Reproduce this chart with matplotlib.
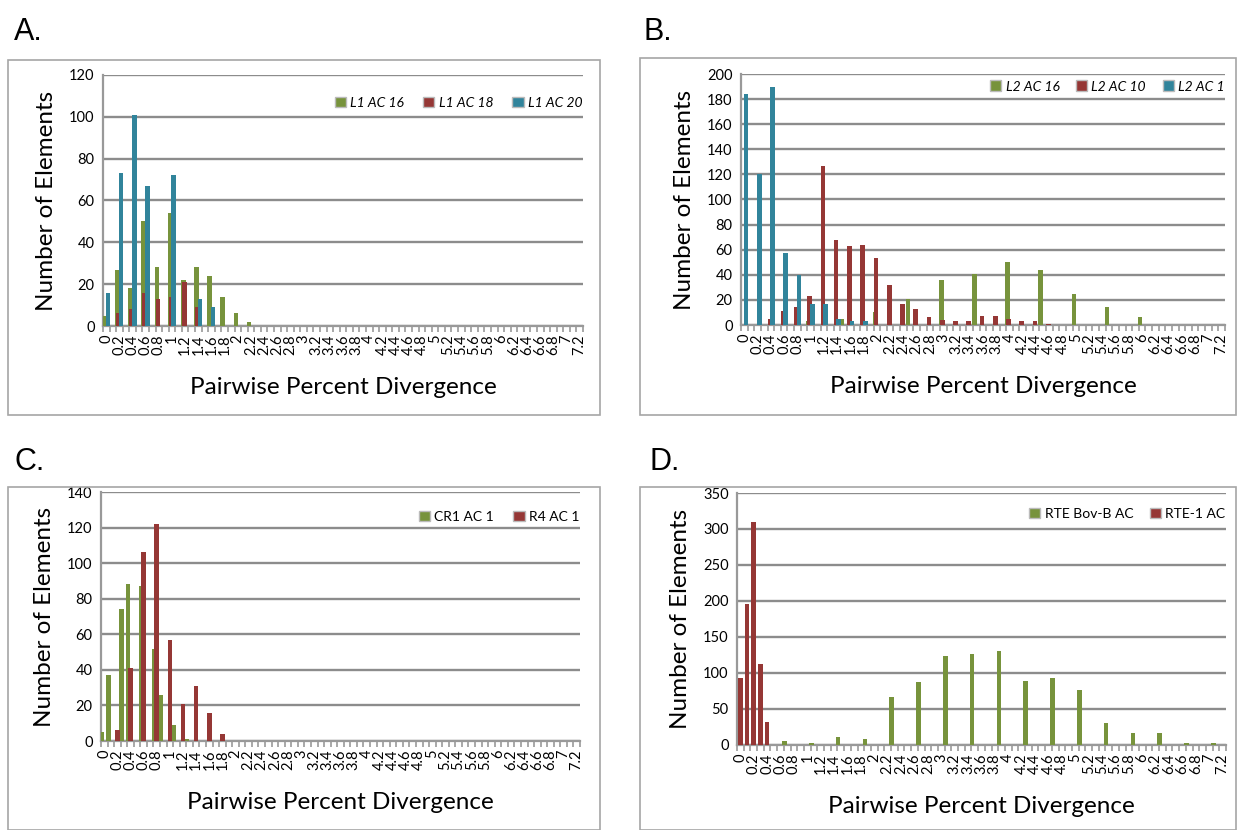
import numpy as np
import matplotlib.pyplot as plt
from matplotlib.patches import Rectangle, Patch

GREEN = '#77933C'
RED = '#953735'
BLUE = '#31849B'

# ---- panel A: L1 families ----
a_green_x = [0, 0.2, 0.4, 0.6, 0.8, 1.0, 1.2, 1.4, 1.6, 1.8, 2.0, 2.2]
a_green_y = [5, 27, 18, 50, 28, 54, 22, 28, 24, 14, 6, 2]
a_red_x = [0.2, 0.4, 0.6, 0.8, 1.0, 1.2, 1.4]
a_red_y = [6, 8, 16, 13, 14, 21, 9]
a_blue_x = [0, 0.2, 0.4, 0.6, 1.0, 1.4, 1.6]
a_blue_y = [16, 73, 101, 67, 72, 13, 9]

# ---- panel B: L2 families ----
b_green_x = [1.0, 1.5, 2.0, 2.5, 3.0, 3.5, 4.0, 4.5, 5.0, 5.5, 6.0]
b_green_y = [3, 5, 10, 21, 36, 41, 50, 44, 25, 14, 6]
b_red_x = [0.4, 0.6, 0.8, 1.0, 1.2, 1.4, 1.6, 1.8, 2.0, 2.2, 2.4, 2.6, 2.8,
           3.0, 3.2, 3.4, 3.6, 3.8, 4.0, 4.2, 4.4, 4.6]
b_red_y = [5, 11, 14, 23, 127, 68, 63, 64, 53, 32, 17, 13, 6,
           4, 3, 3, 7, 7, 5, 3, 3, 1]
b_blue_x = [0, 0.2, 0.4, 0.6, 0.8, 1.0, 1.2, 1.4, 1.6, 1.8]
b_blue_y = [184, 120, 190, 57, 40, 17, 17, 5, 3, 3]

# ---- panel C: CR1 / R4 ----
c_green_x = [0, 0.1, 0.3, 0.4, 0.6, 0.8, 0.9, 1.1, 1.3]
c_green_y = [5, 37, 74, 88, 87, 52, 26, 9, 1]
c_red_x = [0.2, 0.4, 0.6, 0.8, 1.0, 1.2, 1.4, 1.6, 1.8]
c_red_y = [6, 41, 106, 122, 57, 21, 31, 16, 4]

# ---- panel D: RTE ----
d_green_x = [0.7, 1.1, 1.5, 1.9, 2.3, 2.7, 3.1, 3.5, 3.9, 4.3, 4.7, 5.1,
             5.5, 5.9, 6.3, 6.7, 7.1]
d_green_y = [5, 3, 11, 9, 67, 87, 124, 127, 130, 89, 93, 77,
             31, 16, 16, 3, 3]
d_red_x = [0, 0.1, 0.2, 0.3, 0.4]
d_red_y = [93, 196, 310, 113, 32]

x_labels = np.round(np.arange(0, 7.21, 0.2), 1)

W, H = 1244, 830
plt.rcParams['font.family'] = ['Lato', 'DejaVu Sans']

fig = plt.figure(figsize=(W / 100, H / 100), dpi=100)


def px_rect(x0, y0, x1, y1):
    return [x0 / W, 1 - y1 / H, (x1 - x0) / W, (y1 - y0) / H]


def panel(rect, ymax, ystep, series, legend_italic, leg_y, colsp):
    ax = fig.add_axes(px_rect(*rect))
    for xs, ys, color, label, off, w in series:
        ax.bar(np.array(xs) + off, ys, width=w, color=color, label=label,
               zorder=3)
    ax.set_xlim(-0.05, 7.25)
    ax.set_ylim(0, ymax)
    ax.set_yticks(np.arange(0, ymax + 1, ystep))
    ax.tick_params(axis='y', length=0, labelsize=10.5, pad=6)
    ax.set_xticks(x_labels)
    ax.set_xticklabels([f'{v:g}' for v in x_labels], rotation=90, fontsize=10.5)
    ax.set_xticks(np.arange(-0.05, 7.26, 0.1), minor=True)
    ax.tick_params(axis='x', which='major', length=0, pad=6)
    ax.tick_params(axis='x', which='minor', length=4, width=1.2,
                   color='#999999')
    ax.grid(axis='y', color='#8c8c8c', linewidth=1.7, zorder=0)
    for s in ['top', 'right']:
        ax.spines[s].set_visible(False)
    for s in ['left', 'bottom']:
        ax.spines[s].set_color('#999999')
        ax.spines[s].set_linewidth(1.6)
    ax.set_ylabel('Number of Elements', fontsize=17.5, labelpad=9)
    ax.set_xlabel('Pairwise Percent Divergence', fontsize=17.5, labelpad=16)
    handles = [Patch(facecolor=c, edgecolor='#bbbbbb') for _, _, c, _, _, _ in series]
    labels = [l for _, _, _, l, _, _ in series]
    ax.legend(handles, labels, loc='center right', bbox_to_anchor=(1.01, leg_y),
              ncol=len(series), frameon=False, handlelength=0.8,
              handleheight=0.8, columnspacing=colsp, handletextpad=0.3,
              borderaxespad=0,
              prop={'size': 10, 'style': 'italic' if legend_italic else 'normal'})
    return ax


def frame(x0, y0, x1, y1):
    fig.patches.append(Rectangle((x0 / W, 1 - y1 / H), (x1 - x0) / W,
                                 (y1 - y0) / H, transform=fig.transFigure,
                                 fill=False, edgecolor='#a6a6a6', linewidth=1.2))


frame(8, 60, 600, 415)
frame(640, 58, 1236, 415)
frame(8, 487, 600, 830)
frame(640, 487, 1236, 830)

g_off, r_off, b_off, w3 = -0.03, -0.015, 0.025, 0.07
panel((103, 75, 583, 326), 120, 20,
      [(a_green_x, a_green_y, GREEN, 'L1 AC 16', g_off, w3),
       (a_red_x, a_red_y, RED, 'L1 AC 18', r_off, w3),
       (a_blue_x, a_blue_y, BLUE, 'L1 AC 20', b_off, w3)], True, 0.89, 1.4)
panel((741, 74, 1225, 325), 200, 20,
      [(b_green_x, b_green_y, GREEN, 'L2 AC 16', g_off, w3),
       (b_red_x, b_red_y, RED, 'L2 AC 10', r_off, w3),
       (b_blue_x, b_blue_y, BLUE, 'L2 AC 1', b_off, w3)], True, 0.95, 1.2)
panel((101, 492, 580, 741), 140, 20,
      [(c_green_x, c_green_y, GREEN, 'CR1 AC 1', -0.04, 0.07),
       (c_red_x, c_red_y, RED, 'R4 AC 1', 0.0, 0.07)], False, 0.9, 1.4)
panel((737, 493, 1226, 745), 350, 50,
      [(d_green_x, d_green_y, GREEN, 'RTE Bov-B AC', -0.04, 0.07),
       (d_red_x, d_red_y, RED, 'RTE-1 AC', 0.0, 0.07)], False, 0.917, 1.2)

for letter, x, y in [('A.', 14, 40), ('B.', 643, 40), ('C.', 14, 470),
                     ('D.', 650, 470)]:
    fig.text(x / W, 1 - y / H, letter, fontsize=22,
             family='Liberation Sans', va='baseline')

fig.savefig('out.png', dpi=100)
